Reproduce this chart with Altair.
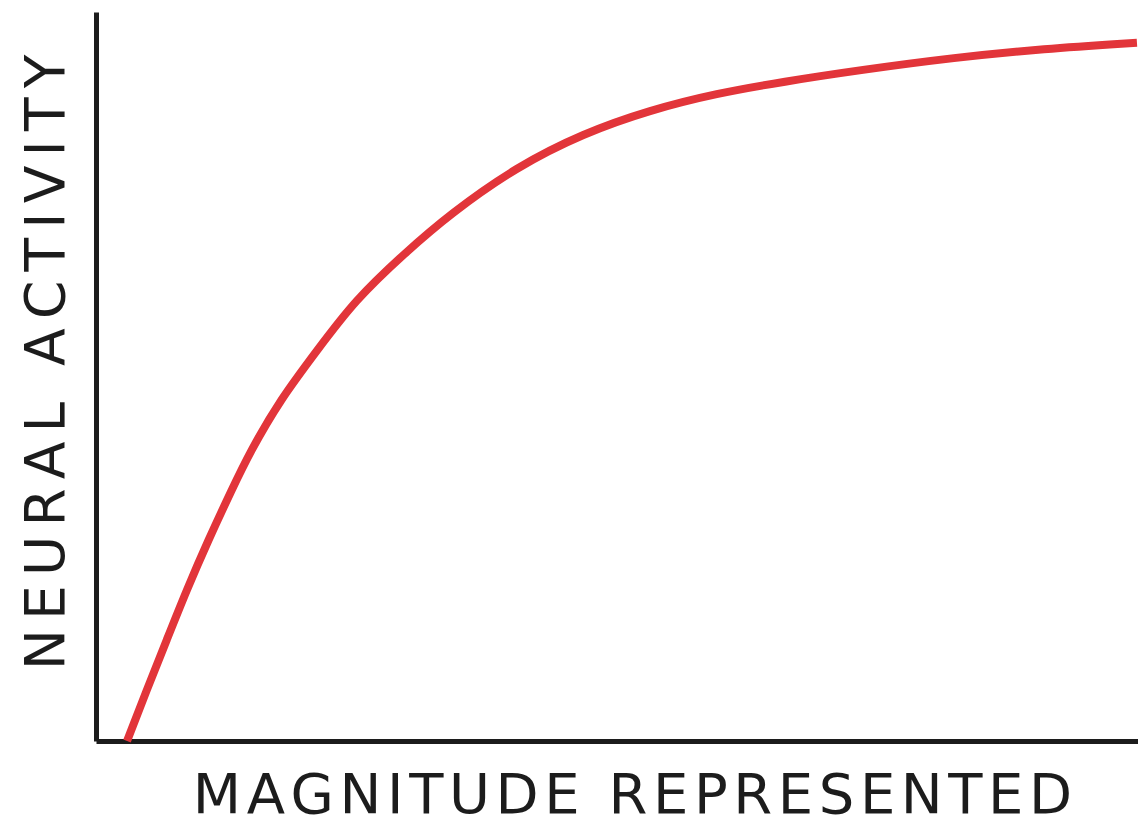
import altair as alt
import pandas as pd

# Response curve: neural activity saturating as represented magnitude grows
magnitude = [2.98, 4.87, 6.79, 8.70, 10.78, 13.02, 14.78, 17.66, 21.18, 24.86, 29.65,
             33.97, 40.37, 46.77, 53.17, 59.57, 65.96, 73.32, 82.44, 90.88, 99.90]
activity = [0.0, 7.00, 13.86, 20.71, 27.57, 34.43, 39.64, 46.78, 53.50, 60.49, 66.94,
            72.29, 78.78, 83.36, 86.56, 88.85, 90.44, 92.04, 93.76, 94.95, 95.79]

x_title = "MAGNITUDE REPRESENTED"
y_title = "NEURAL ACTIVITY"


def tracked(text, gap):
    """Spread capitals apart with narrow Unicode spaces (letter tracking)."""
    return gap.join(text)


df = pd.DataFrame({"magnitude": magnitude, "activity": activity})

ink = "#1c1c1c"
font = "DejaVu Sans"

chart = (
    alt.Chart(df)
    .mark_line(color="#e2353a", strokeWidth=8, interpolate="basis", strokeCap="butt")
    .encode(
        x=alt.X(
            "magnitude:Q",
            scale=alt.Scale(domain=[0, 100], nice=False, zero=False),
            axis=alt.Axis(
                title=tracked(x_title, "\u200a"),
                labels=False, ticks=False, grid=False,
                domainColor=ink, domainWidth=5,
                titleFont=font, titleFontSize=56, titleFontWeight="normal",
                titleColor=ink, titleX=536, titleY=71,
                titleBaseline="alphabetic", titleAlign="center",
            ),
        ),
        y=alt.Y(
            "activity:Q",
            scale=alt.Scale(domain=[0, 100], nice=False, zero=False),
            axis=alt.Axis(
                title=tracked(y_title, "\u2006"),
                labels=False, ticks=False, grid=False,
                domainColor=ink, domainWidth=5,
                titleFont=font, titleFontSize=55, titleFontWeight="normal",
                titleColor=ink, titleAngle=270, titleX=-33, titleY=350,
                titleBaseline="alphabetic", titleAlign="center",
            ),
        ),
    )
    .properties(
        width=1042,
        height=729,
        view=alt.ViewBackground(stroke="transparent", strokeWidth=0, fill="white"),
        autosize=alt.AutoSizeParams(type="none"),
        padding={"left": 96, "top": 12, "right": 0, "bottom": 84},
    )
    .configure(background="white")
)

chart.save("out.html", embed_options={"renderer": "svg", "actions": False})
